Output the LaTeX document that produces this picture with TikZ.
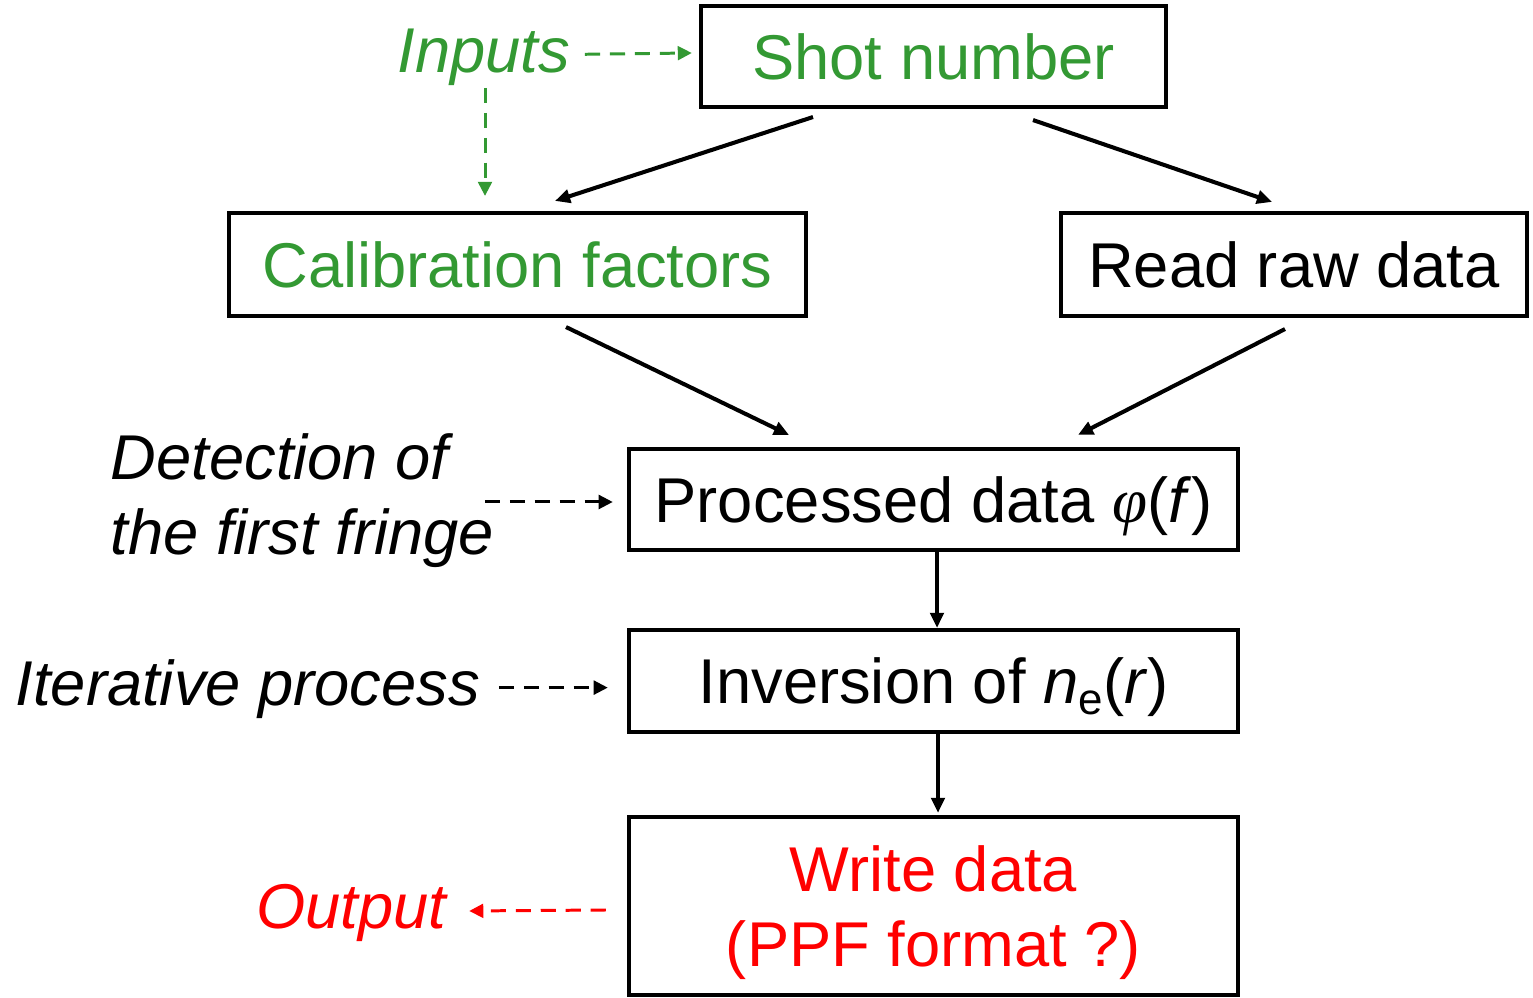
\documentclass[tikz,border=0pt]{standalone}
\usepackage{fontspec}
\setmainfont{Liberation Sans}
\newfontfamily\phifont{Liberation Serif}
\usetikzlibrary{arrows.meta,calc}
\definecolor{ingreen}{RGB}{51,153,51}
\definecolor{outred}{RGB}{255,0,0}
\begin{document}
\begin{tikzpicture}[x=0.01cm,y=-0.01cm,
  box/.style={draw,line width=1.15pt,inner sep=0pt,align=center,text depth=0pt,font=\fontsize{18}{21.3}\selectfont},
  lab/.style={font=\fontsize{18}{21.3}\selectfont\itshape,inner sep=0pt},
  flow/.style={line width=1.15pt,-{Triangle[length=4.3pt,width=3.8pt]}},
  dflow/.style={line width=0.85pt,dash pattern=on 4.3pt off 2.8pt,-{Triangle[length=4pt,width=3.9pt]}}]
\useasboundingbox (0,0) rectangle (1533,998);

% boxes
\node[box,text=ingreen,minimum width=4.65cm,minimum height=1.01cm] (shot) at (933.5,56.5) {Shot number};
\node[box,text=ingreen,minimum width=5.77cm,minimum height=1.03cm] (cal) at (517.5,264.5) {Calibration factors};
\node[box,minimum width=4.66cm,minimum height=1.03cm] (raw) at (1294,264.5) {Read raw data};
\node[box,minimum width=6.09cm,minimum height=1.01cm] (proc) at (933.5,499.5) {Processed data {\phifont\itshape φ}(\textit{f})};
\node[box,minimum width=6.09cm,minimum height=1.02cm] (inv) at (933.5,681) {Inversion of \textit{n}\raisebox{-3pt}{\fontsize{12.5}{12}\selectfont e}(\textit{r})};
\node[box,text=outred,minimum width=6.09cm,minimum height=1.78cm] (write) at (933.5,906) {Write data\\(PPF format ?)};

% side labels
\node[lab,text=ingreen,anchor=base] (inputs) at (484,73) {Inputs};
\node[lab,anchor=base west] (det1) at (110,480) {Detection of};
\node[lab,anchor=base west] (det2) at (110,555) {the first fringe};
\node[lab,anchor=base west] (iter) at (15,706) {Iterative process};
\node[lab,text=outred,anchor=base] (out) at (351.5,929) {Output};

% solid flow
\draw[flow] ($(shot.south)+(-120.5,8)$) -- ($(cal.north)+(37.5,-10)$);
\draw[flow] ($(shot.south)+(99.5,11)$) -- ($(raw.north)+(-22,-9)$);
\draw[flow] ($(cal.south)+(48.5,9)$) -- ($(proc.north)+(-144.5,-12)$);
\draw[flow] ($(raw.south)+(-9,11)$) -- ($(proc.north)+(144.5,-12)$);
\draw[flow] ($(proc.south)+(3.5,0)$) -- ($(inv.north)+(3.5,0)$);
\draw[flow] ($(inv.south)+(4.5,0)$) -- ($(write.north)+(4.5,-2)$);

% dashed
\draw[dflow,ingreen] ($(inputs.east)+(14,-3.5)$) -- ($(shot.west)+(-7,-3.5)$);
\draw[dflow,ingreen] ($(inputs.south)+(1,1)$) -- ($(cal.north -| inputs.south)+(1,-15)$);
\draw[dflow] ($(proc.west)+(-142,2.5)$) -- ($(proc.west)+(-14,2.5)$);
\draw[dflow] ($(iter.east)+(18,-2)$) -- ($(inv.west |- iter.east)+(-19,-2)$);
\draw[dflow,outred] ($(write.west)+(-21,4)$) -- ($(out.east)+(22,-2.5)$);
\end{tikzpicture}
\end{document}
